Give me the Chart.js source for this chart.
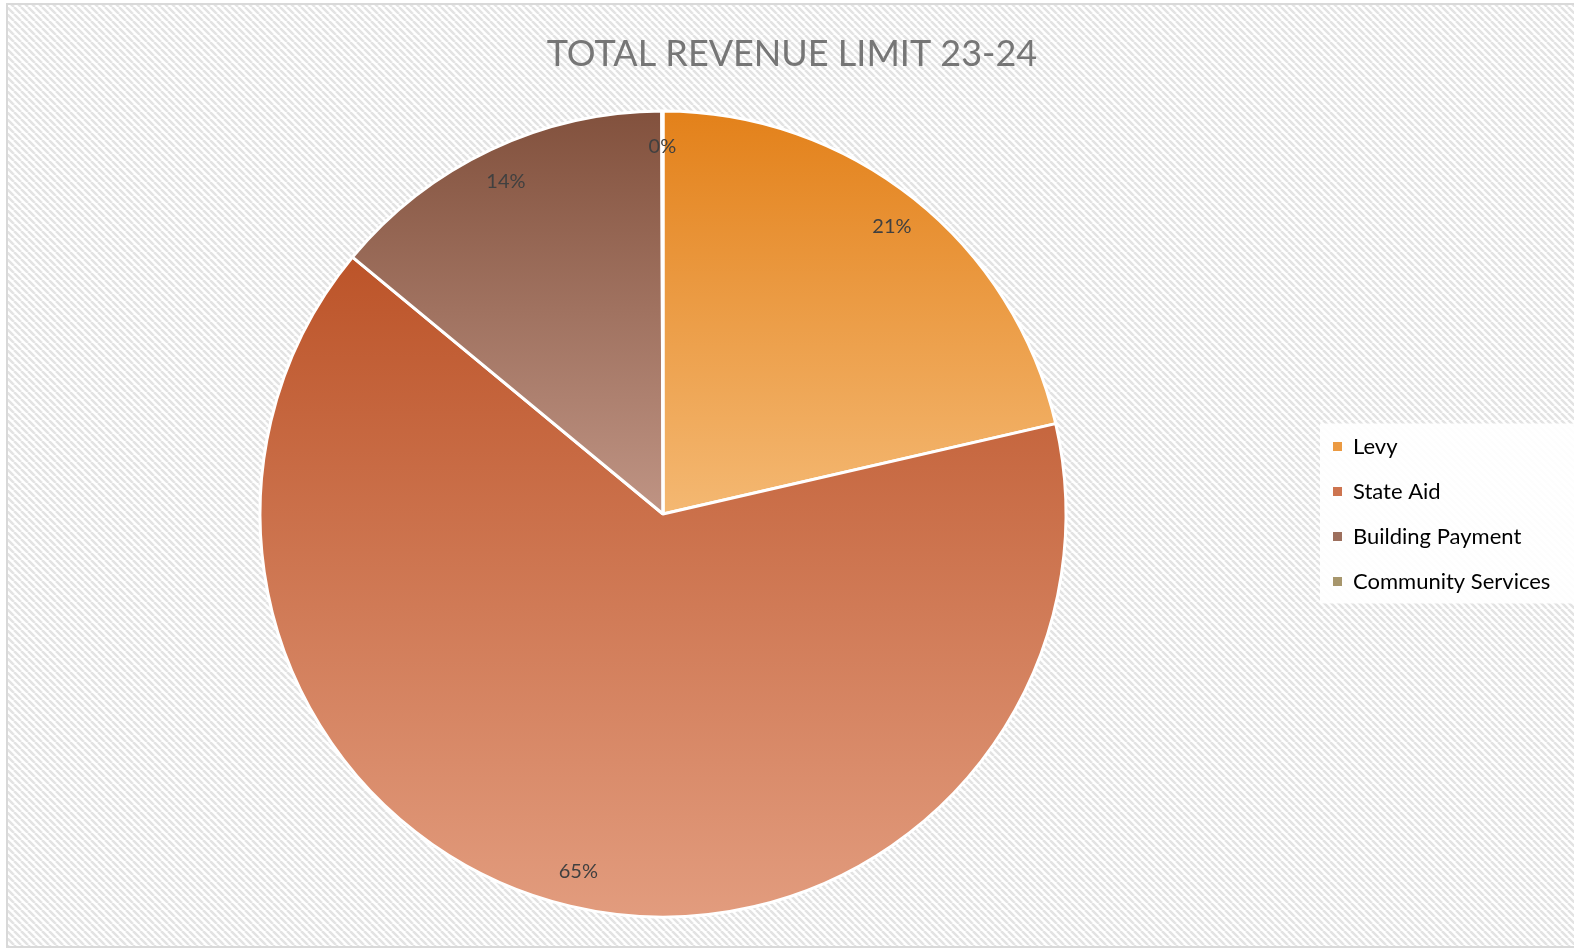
<!DOCTYPE html>
<html>
<head>
<meta charset="utf-8">
<script src="https://cdn.jsdelivr.net/npm/chart.js@4/dist/chart.umd.min.js"></script>
<style>
  html, body { margin: 0; padding: 0; background: #ffffff; }
  #wrap { width: 1574px; height: 949px; position: relative; }
</style>
</head>
<body>
<div id="wrap"><canvas id="c" width="1574" height="949"></canvas></div>
<script>
// ---- Data ----
const chartTitle = 'TOTAL REVENUE LIMIT 23-24';
const categories = ['Levy', 'State Aid', 'Building Payment', 'Community Services'];
const shareValues = [21.4, 64.6, 13.95, 0.05];
// gradient colours per slice: [top, bottom]
const sliceTopColors = ['#E3811A', '#BC5429', '#82513D', '#8C7A4E'];
const sliceBottomColors = ['#F4B872', '#E29C7E', '#BF9484', '#C8B890'];

// ---- layout targets ----
const FONT = 'Lato, "Open Sans", sans-serif';
const legendFontSize = 22;
const legendPadding = 23;
const legendBoxW = 9;
const legendLeftTarget = 1333 - legendPadding;
const pieCenter = { x: 663, y: 514 };
const pieRadius = 403;

// ---- hatch pattern ----
function makePattern(ctx) {
  const p = document.createElement('canvas');
  const s = 7;
  p.width = s; p.height = s;
  const pc = p.getContext('2d');
  pc.fillStyle = '#ffffff';
  pc.fillRect(0, 0, s, s);
  pc.strokeStyle = '#e3e3e3';
  pc.lineWidth = 2.5;
  [-s, 0, s].forEach(o => {
    pc.beginPath();
    pc.moveTo(o, 0);
    pc.lineTo(o + s, s);
    pc.stroke();
  });
  return ctx.createPattern(p, 'repeat');
}

const backgroundPlugin = {
  id: 'bgHatch',
  afterLayout(chart) {
    // centre title across the canvas, pin legend box to chart area height
    if (chart.titleBlock) {
      chart.titleBlock.left = 0;
      chart.titleBlock.right = chart.width + 10;
    }
    const lg = chart.legend;
    if (lg) {
      const ca = chart.chartArea;
      const w = lg.width;
      lg.top = ca.top; lg.bottom = ca.bottom; lg.height = ca.bottom - ca.top;
      lg.left = legendLeftTarget; lg.right = legendLeftTarget + w;
    }
  },
  beforeDraw(chart) {
    const ctx = chart.ctx;
    ctx.save();
    ctx.fillStyle = '#ffffff';
    ctx.fillRect(0, 0, chart.width, chart.height);
    ctx.fillStyle = makePattern(ctx);
    ctx.fillRect(8, 5, chart.width - 8, chart.height - 7);
    ctx.strokeStyle = '#d9d9d9';
    ctx.lineWidth = 2;
    ctx.strokeRect(7, 4, chart.width + 10, chart.height - 6);
    // legend backdrop
    const lg = chart.legend;
    if (lg && lg.legendHitBoxes && lg.legendHitBoxes.length) {
      const hb = lg.legendHitBoxes;
      const top = hb[0].top - 12;
      const bottom = hb[hb.length - 1].top + hb[hb.length - 1].height + 11;
      const left = hb[0].left - 13;
      ctx.fillStyle = 'rgba(255,255,255,0.9)';
      ctx.fillRect(left, top, chart.width - left, bottom - top);
    }
    ctx.restore();
  }
};

const labelPlugin = {
  id: 'pctLabels',
  afterDatasetsDraw(chart) {
    const ctx = chart.ctx;
    const meta = chart.getDatasetMeta(0);
    const data = chart.data.datasets[0].data;
    const total = data.reduce((a, b) => a + b, 0);
    ctx.save();
    ctx.font = '20px ' + FONT;
    ctx.fillStyle = '#404040';
    ctx.textAlign = 'center';
    ctx.textBaseline = 'middle';
    meta.data.forEach((arc, i) => {
      const p = arc.getProps(['x', 'y', 'startAngle', 'endAngle', 'outerRadius'], true);
      const mid = (p.startAngle + p.endAngle) / 2;
      const r = p.outerRadius * 0.912;
      const pct = Math.round(data[i] / total * 100);
      ctx.fillText(pct + '%', p.x + Math.cos(mid) * r, p.y + Math.sin(mid) * r);
    });
    ctx.restore();
  }
};

function sliceGradient(context) {
  const chart = context.chart;
  const i = context.dataIndex;
  const area = chart.chartArea;
  if (!area || i === undefined) return sliceTopColors[i] || '#999';
  const cx = (area.left + area.right) / 2;
  const cy = (area.top + area.bottom) / 2;
  const R = pieRadius;
  const data = chart.data.datasets[0].data;
  const total = data.reduce((a, b) => a + b, 0);
  let cum = 0;
  for (let k = 0; k < i; k++) cum += data[k];
  const a0 = -Math.PI / 2 + cum / total * 2 * Math.PI;
  const a1 = a0 + data[i] / total * 2 * Math.PI;
  const ys = [cy, cy + Math.sin(a0) * R, cy + Math.sin(a1) * R];
  [-Math.PI / 2, Math.PI / 2, 3 * Math.PI / 2].forEach(a => {
    if (a >= a0 && a <= a1) ys.push(cy + Math.sin(a) * R);
  });
  const top = Math.min(...ys), bottom = Math.max(...ys);
  const g = chart.ctx.createLinearGradient(0, top, 0, Math.max(bottom, top + 1));
  g.addColorStop(0, sliceTopColors[i]);
  g.addColorStop(1, sliceBottomColors[i]);
  return g;
}

function mixColor(a, b) {
  const pa = [1, 3, 5].map(k => parseInt(a.substr(k, 2), 16));
  const pb = [1, 3, 5].map(k => parseInt(b.substr(k, 2), 16));
  return 'rgb(' + pa.map((v, k) => Math.round(v * 0.55 + pb[k] * 0.45)).join(',') + ')';
}

const chart = new Chart(document.getElementById('c'), {
  type: 'pie',
  data: {
    labels: categories,
    datasets: [{
      data: shareValues,
      backgroundColor: sliceGradient,
      borderColor: '#ffffff',
      borderWidth: 3,
      hoverBorderWidth: 3,
      hoverOffset: 0,
      offset: 0,
      radius: pieRadius
    }]
  },
  options: {
    responsive: false,
    animation: false,
    events: [],
    layout: { padding: { left: 17, right: 20, top: 0, bottom: 36 } },
    plugins: {
      title: {
        display: true,
        text: chartTitle,
        color: '#767676',
        font: { family: FONT, size: 36, weight: 'normal', lineHeight: 1.2 },
        padding: { top: 33, bottom: 35 }
      },
      legend: {
        position: 'right',
        align: 'center',
        labels: {
          color: '#595959',
          font: { family: FONT, size: legendFontSize },
          boxWidth: legendBoxW,
          boxHeight: 9,
          padding: legendPadding,
          generateLabels() {
            return categories.map((c, i) => ({
              text: c,
              fillStyle: mixColor(sliceTopColors[i], sliceBottomColors[i]),
              strokeStyle: '#ffffff',
              lineWidth: 0,
              hidden: false,
              index: i
            }));
          }
        }
      },
      tooltip: { enabled: false }
    }
  },
  plugins: [backgroundPlugin, labelPlugin]
});

// correction pass: place the pie centre where the reference has it
(function correct() {
  const arc = chart.getDatasetMeta(0).data[0];
  if (!arc) return;
  const pad = chart.options.layout.padding;
  const dx = pieCenter.x - arc.x;
  const dy = pieCenter.y - arc.y;
  pad.left = pad.left + 2 * dx;
  chart.options.plugins.title.padding.bottom += 2 * dy;
  chart.update();
})();
</script>
</body>
</html>
